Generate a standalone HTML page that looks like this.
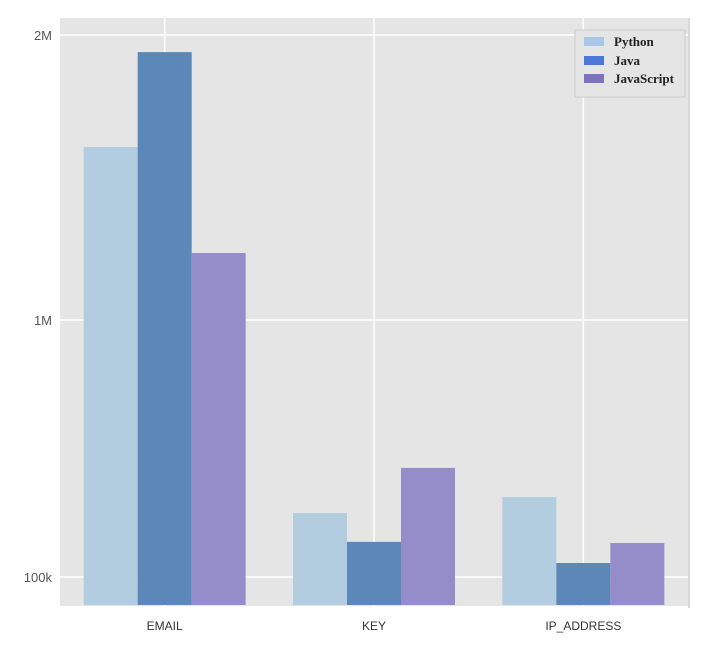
<!DOCTYPE html>
<html><head><meta charset="utf-8"><style>
body{margin:0;background:#fff;}
svg{display:block;font-family:"Liberation Sans",sans-serif;}
</style></head><body>
<svg id="chart" width="720" height="652">
<rect x="60" y="18" width="628" height="588" fill="#e5e5e5"/>
<line x1="689" y1="18" x2="689" y2="608" stroke="#ccc" stroke-width="1.5"/>
<g id="grid"></g><g id="bars"></g><g id="axes"></g>
<g>
<rect x="575" y="30" width="110" height="67" fill="#e5e5e5" stroke="#ccc"/>
<rect x="584" y="37" width="20" height="9" fill="#a9c6e6"/>
<text x="614" y="46" font-family="Liberation Serif,serif" font-weight="bold" font-size="13" fill="#222">Python</text>
<rect x="584" y="56" width="20" height="9" fill="#4b78d6"/>
<text x="614" y="65" font-family="Liberation Serif,serif" font-weight="bold" font-size="13" fill="#222">Java</text>
<rect x="584" y="74" width="20" height="9" fill="#7d72c0"/>
<text x="614" y="83" font-family="Liberation Serif,serif" font-weight="bold" font-size="13" fill="#222">JavaScript</text>
</g>
</svg>
<script>
const categories=["EMAIL","KEY","IP_ADDRESS"];
const series=["Python","Java","JavaScript"];
const python=[1607000,324000,380000];
const java=[1940000,223000,149000];
const javascript=[1235000,482000,219000];
const tickValues=[100000,1000000,2000000];
const tickLabels=["100k","1M","2M"];
const colors=["#b3cde0","#5b88b8","#958cca"];
const NS="http://www.w3.org/2000/svg";
const tickPix=[577,320,35];
function y(v){
  if(v<=tickValues[1]) return tickPix[0]+(v-tickValues[0])*(tickPix[1]-tickPix[0])/(tickValues[1]-tickValues[0]);
  return tickPix[1]+(v-tickValues[1])*(tickPix[2]-tickPix[1])/(tickValues[2]-tickValues[1]);
}
const x0=60,band=628/categories.length,groupW=162;
function xc(i){return x0+band*(i+0.5);}
const baseY=605;
function mk(tag,attrs,parent){const e=document.createElementNS(NS,tag);for(const k in attrs)e.setAttribute(k,attrs[k]);parent.appendChild(e);return e;}
const grid=document.getElementById('grid'),bars=document.getElementById('bars'),axes=document.getElementById('axes');
tickValues.forEach((t,i)=>{
  const l=mk('line',{x1:60,x2:688,y1:y(t),y2:y(t),stroke:'#fff','stroke-width':1.5},grid);
  
  
  const tx=mk('text',{x:52,y:y(t)+5,'text-anchor':'end','font-size':13,fill:'#555'},axes);
  tx.textContent=tickLabels[i];
  
  
});
categories.forEach((c,i)=>{
  const l=mk('line',{x1:xc(i),x2:xc(i),y1:18,y2:606,stroke:'#fff','stroke-width':1.5},grid);
  
  
  const tx=mk('text',{x:xc(i),y:630,'text-anchor':'middle','font-size':12,fill:'#333'},axes);
  tx.textContent=c;
  
  
});
const data=[python,java,javascript];
data.forEach((arr,s)=>{
  arr.forEach((v,i)=>{
    const bw=groupW/3;
    const r=mk('rect',{x:xc(i)-groupW/2+s*bw,y:y(v),width:bw,height:baseY-y(v),fill:colors[s]},bars);
    
    
  });
});
</script>
</body></html>
